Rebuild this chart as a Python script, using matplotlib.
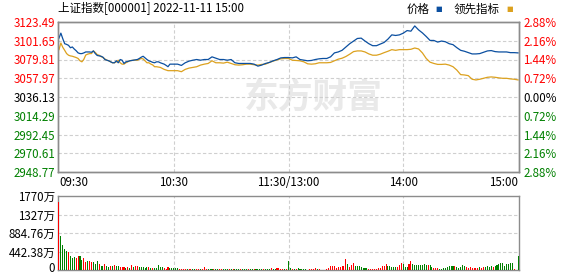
import matplotlib
matplotlib.use("Agg")
import matplotlib.pyplot as plt
import numpy as np

plt.rcParams['font.family'] = ['Noto Sans CJK SC', 'DejaVu Sans']

# ---------------- data ----------------
prev_close = 3036.13
price_ticks = [2948.77, 2970.61, 2992.45, 3014.29, 3036.13, 3057.97, 3079.81, 3101.65, 3123.49]
pct_labels = ["2.88%", "2.16%", "1.44%", "0.72%", "0.00%", "0.72%", "1.44%", "2.16%", "2.88%"]
time_labels = ["09:30", "10:30", "11:30/13:00", "14:00", "15:00"]
time_ticks = [0, 60, 120, 180, 240]

minutes = list(range(0, 61)) + list(range(62, 241, 2))

price = [3104.7, 3110.5, 3104.0, 3098.2, 3097.4, 3096.3, 3093.5, 3094.4, 3092.0, 3090.0,
         3087.5, 3086.7, 3086.7, 3087.5, 3088.6, 3088.6, 3088.6, 3088.2, 3089.8, 3086.7,
         3084.5, 3084.0, 3083.6, 3082.5, 3079.8, 3079.0, 3078.3, 3077.1, 3076.0, 3076.0,
         3078.3, 3076.0, 3079.8, 3079.0, 3075.2, 3077.1, 3077.5, 3078.3, 3078.7, 3079.0,
         3079.4, 3079.8, 3081.0, 3082.5, 3083.6, 3081.7, 3079.8, 3078.3, 3077.5, 3076.5,
         3076.0, 3077.1, 3077.1, 3076.0, 3075.2, 3074.4, 3073.0, 3071.4, 3074.4, 3074.4,
         3074.4,
         3074.4, 3072.9, 3076.0, 3077.9, 3079.0, 3079.8, 3079.0, 3079.8, 3079.8, 3082.9,
         3081.3, 3079.8, 3079.8, 3079.0, 3079.8, 3076.0, 3075.2, 3075.2, 3075.2, 3075.2,
         3074.4, 3072.1, 3073.3, 3075.2, 3076.4, 3078.3, 3079.8, 3081.7, 3082.1, 3082.1,
         3081.7, 3082.9, 3079.8, 3079.0, 3078.3, 3078.7, 3079.8, 3080.6, 3081.0, 3081.0,
         3082.9, 3087.5, 3088.6, 3090.5, 3094.4, 3098.2, 3101.3, 3104.3, 3104.7, 3101.3,
         3098.2, 3095.9, 3095.9, 3097.8, 3099.7, 3103.6, 3108.5, 3107.8, 3108.5, 3110.5,
         3113.5, 3112.8, 3118.9, 3114.3, 3110.8, 3106.6, 3102.0, 3102.0, 3100.1, 3101.3,
         3100.5, 3098.2, 3097.1, 3093.6, 3090.5, 3089.4, 3087.8, 3086.3, 3086.3, 3086.7,
         3088.2, 3089.8, 3090.2, 3089.0, 3088.6, 3088.6, 3088.6, 3087.8, 3087.8, 3087.5]

leading = [3091.3, 3099.0, 3094.0, 3090.5, 3086.7, 3084.8, 3084.0, 3083.6, 3082.9, 3082.1,
           3081.0, 3078.3, 3077.1, 3080.0, 3085.0, 3086.0, 3086.7, 3086.7, 3089.8, 3088.0,
           3085.5, 3084.8, 3083.2, 3082.1, 3080.5, 3079.0, 3078.3, 3077.1, 3076.0, 3076.0,
           3077.1, 3079.0, 3076.0, 3074.4, 3074.4, 3076.0, 3077.1, 3078.3, 3078.7, 3079.0,
           3079.0, 3079.0, 3080.0, 3081.0, 3080.5, 3078.3, 3076.0, 3076.0, 3074.5, 3073.5,
           3071.4, 3071.4, 3071.0, 3070.6, 3069.5, 3068.3, 3067.5, 3066.8, 3066.8, 3066.8,
           3066.8,
           3066.8, 3065.6, 3068.3, 3069.8, 3070.6, 3071.4, 3073.3, 3074.4, 3075.2, 3078.3,
           3076.0, 3076.0, 3075.6, 3076.7, 3075.2, 3073.7, 3073.3, 3073.7, 3074.4, 3074.4,
           3073.7, 3073.3, 3074.1, 3074.4, 3076.4, 3077.9, 3079.4, 3080.6, 3081.0, 3081.0,
           3079.0, 3078.7, 3078.3, 3077.1, 3074.8, 3074.4, 3074.8, 3076.0, 3076.0, 3076.0,
           3076.4, 3078.3, 3080.2, 3081.3, 3083.3, 3086.0, 3089.0, 3089.8, 3089.8, 3088.6,
           3086.3, 3084.8, 3084.8, 3086.0, 3087.8, 3089.4, 3091.3, 3090.5, 3091.3, 3091.3,
           3091.3, 3091.7, 3093.2, 3092.1, 3087.5, 3081.0, 3076.7, 3075.2, 3074.1, 3074.1,
           3074.4, 3073.3, 3071.4, 3067.5, 3062.2, 3061.8, 3061.0, 3056.8, 3056.0, 3056.8,
           3057.9, 3059.1, 3059.5, 3059.1, 3058.4, 3057.9, 3057.9, 3057.2, 3056.8, 3056.0]

vol_ticks = [0, 442.38, 884.76, 1327.14, 1769.52]
vol_labels = ["", "442.38万", "884.76万", "1327万", "1770万"]

# volume per minute (万), 0..240
volume = [1634, 814, 600, 514, 458, 435, 340, 292, 316, 292,
          340, 340, 245, 292, 198, 221, 221, 198, 182, 150,
          221, 150, 103, 103, 150, 103, 79, 103, 103, 126,
          103, 103, 79, 79, 79, 55, 79, 55, 126, 79,
          103, 103, 79, 79, 79, 55, 79, 79, 55, 55,
          55, 55, 126, 79, 79, 55, 32, 79, 55, 55,
          55, 55, 55, 32, 32, 16, 32, 16, 32, 16,
          16, 16, 16, 16, 16, 16, 79, 32, 16, 16,
          16, 16, 32, 16, 16, 16, 16, 32, 16, 32,
          16, 16, 16, 16, 16, 32, 16, 16, 16, 16,
          16, 16, 32, 16, 16, 16, 16, 16, 16, 16,
          16, 55, 16, 16, 55, 55, 16, 16, 16, 16,
          221,
          55, 32, 32, 32, 55, 32, 32, 32, 32, 8,
          32, 32, 32, 55, 32, 32, 8, 8, 8, 32,
          55, 103, 103, 103, 55, 79, 79, 103, 103, 269,
          150, 79, 126, 174, 103, 103, 103, 79, 55, 55,
          55, 32, 32, 32, 32, 32, 55, 55, 103, 103,
          150, 103, 103, 79, 79, 79, 79, 126, 174, 150,
          79, 79, 150, 221, 150, 126, 126, 126, 126, 126,
          150, 126, 126, 126, 79, 55, 55, 55, 32, 32,
          55, 55, 79, 103, 103, 103, 103, 79, 55, 79,
          126, 103, 79, 55, 79, 55, 55, 55, 55, 79,
          55, 79, 79, 103, 79, 103, 79, 103, 126, 150,
          174, 174, 103, 150, 150, 174, 174, 16, 0, 340]

# R = up minute (red), G = down minute (green); one letter per volume bar
vol_dir = ("RGGGGRGGGR" "RGGRRGRRGG" "GRGGRGGRGR" "GGRRRGRGRG" "RRGGGGGRGR"
           "GGGGGRRRGG" "GGGRRRRGRR" "GGRRGRRRGG" "GRGGRRGGGR" "GRGGGRGGGR"
           "GGRGGGGRGG" "GRGGRRRRGR"
           "G"
           "GRGRGGGGGG" "RRRRGRRRRR" "RRRRRRRRRR" "GRRRGGGGGG" "GRRRRRRRRR"
           "RGGGGGRRRG" "GGRRGGGGGG" "GGRGGRRRGG" "GGGGGGRGGG" "GGRRRRRRRG"
           "RRGGGGRGGG" "GGGGGGGRGG")

# ---------------- figure ----------------
W, H = 578, 276
fig = plt.figure(figsize=(W / 100, H / 100), dpi=100)
fig.patch.set_facecolor("white")

L, R = 58, 519
ax = fig.add_axes([L / W, 1 - 172 / H, (R - L) / W, 150 / H])
axv = fig.add_axes([L / W, 1 - 270 / H, (R - L) / W, 74 / H])

red = "#ff0000"
green = "#008000"
blue = "#0b4fa0"
orange = "#dca11e"
gridc = "#cfcfcf"
spc = "#8c8c8c"

x_min, x_max = -0.5, 240.5

# watermark
ax.text(0.555, 0.50, "东方财富", transform=ax.transAxes, fontsize=25, fontweight="bold",
        color="#e9e9e9", ha="center", va="center", zorder=0)

ax.plot(minutes, leading, color=orange, lw=0.9, zorder=3)
ax.plot(minutes, price, color=blue, lw=0.9, zorder=4)

ax.set_xlim(x_min, x_max)
ax.set_ylim(price_ticks[0], price_ticks[-1])
ax.set_yticks(price_ticks)
ax.set_yticklabels([f"{v:.2f}" for v in price_ticks])
for lab, v in zip(ax.get_yticklabels(), price_ticks):
    lab.set_color(red if v > prev_close + 0.01 else (green if v < prev_close - 0.01 else "black"))
ax.set_xticks(time_ticks)
ax.set_xticklabels(time_labels)
xl = ax.get_xticklabels()
xl[0].set_ha("left")
xl[-1].set_ha("right")
ax.tick_params(axis="both", length=0, labelsize=8.3, pad=2)
ax.tick_params(axis="x", pad=3)

ax2 = ax.twinx()
ax2.set_ylim(price_ticks[0], price_ticks[-1])
ax2.set_yticks(price_ticks)
ax2.set_yticklabels(pct_labels)
for lab, v in zip(ax2.get_yticklabels(), price_ticks):
    lab.set_color(red if v > prev_close + 0.01 else (green if v < prev_close - 0.01 else "black"))
ax2.tick_params(axis="y", length=0, labelsize=8.3, pad=3)

for a in (ax, ax2):
    for s in a.spines.values():
        s.set_color(spc)
        s.set_linewidth(1.0)

for v in price_ticks[1:-1]:
    ax.axhline(v, color=gridc, lw=0.8, ls=(0, (3, 2)), zorder=1)
for t in time_ticks[1:-1]:
    ax.axvline(t, color=gridc, lw=0.8, ls=(0, (3, 2)), zorder=1)

# volume
vx = np.arange(len(volume))
colors = [red if c == "R" else green for c in vol_dir]
axv.bar(vx, volume, width=0.55, color=colors, linewidth=0, zorder=3)
axv.set_xlim(x_min, x_max)
axv.set_ylim(0, vol_ticks[-1])
axv.set_yticks(vol_ticks)
axv.set_yticklabels(vol_labels)
axv.set_xticks([])
axv.tick_params(axis="y", length=0, labelsize=8.3, pad=2)
for s in axv.spines.values():
    s.set_color(spc)
    s.set_linewidth(1.0)
for v in vol_ticks[1:-1]:
    axv.axhline(v, color=gridc, lw=0.8, ls=(0, (3, 2)), zorder=1)
for t in time_ticks[1:-1]:
    axv.axvline(t, color=gridc, lw=0.8, ls=(0, (3, 2)), zorder=1)
# zero label of the volume axis, nudged up so it stays inside the canvas
fig.text((L - 3) / W, 1 - 268 / H, "0", fontsize=8.3, ha="right", va="center")

# title and legend
fig.text(L / W, 1 - 9 / H, "上证指数[000001] 2022-11-11 15:00", fontsize=8.3,
         ha="left", va="center", color="black")
fig.text(430 / W, 1 - 9 / H, "价格", fontsize=8.3, ha="right", va="center")
fig.text(439 / W, 1 - 9 / H, "■", fontsize=5, ha="center", va="center", color=blue,
         family="DejaVu Sans")
fig.text(500 / W, 1 - 9 / H, "领先指标", fontsize=8.3, ha="right", va="center")
fig.text(510 / W, 1 - 9 / H, "■", fontsize=5, ha="center", va="center", color=orange,
         family="DejaVu Sans")

fig.savefig("out.png", dpi=100)
